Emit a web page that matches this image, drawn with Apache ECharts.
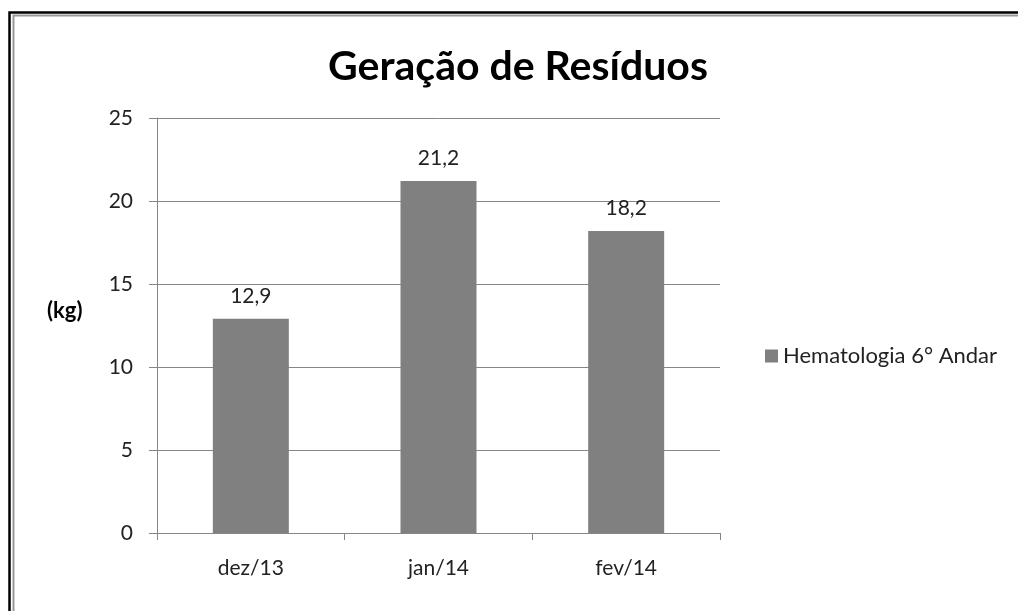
<!DOCTYPE html>
<html><head><meta charset="utf-8">
<script src="https://cdn.jsdelivr.net/npm/echarts@6/dist/echarts.min.js"></script>
<style>html,body{margin:0;padding:0;background:#fff}#c{width:1018px;height:611px}</style>
</head><body><div id="c"></div>
<script>
const categories = ['dez/13', 'jan/14', 'fev/14'];
const values = [12.9, 21.2, 18.2];
const seriesName = 'Hematologia 6° Andar';
const titleText = 'Geração de Resíduos';
const yAxisName = '(kg)';
const yMin = 0, yMax = 25, yStep = 5;

const chart = echarts.init(document.getElementById('c'), null, {renderer: 'canvas'});
const ff = 'Lato, "Open Sans", sans-serif';
chart.setOption({
  animation: false,
  backgroundColor: '#fff',
  graphic: [
    {type: 'rect', shape: {x: 9.5, y: 12.5, width: 1030, height: 640}, style: {fill: 'none', stroke: '#000', lineWidth: 2.5}, silent: true},
    {type: 'rect', shape: {x: 13.5, y: 15.5, width: 1030, height: 640}, style: {fill: 'none', stroke: '#999', lineWidth: 2}, silent: true},
    {type: 'text', left: 47, top: 300, style: {text: yAxisName, font: 'bold 22px ' + ff, fill: '#000'}}
  ],
  title: {
    text: titleText, left: 513, top: 41, textAlign: 'center',
    textStyle: {fontFamily: ff, fontWeight: 'bold', fontSize: 41, color: '#000'}
  },
  legend: {
    data: [seriesName], left: 760, top: 340, orient: 'vertical',
    icon: 'rect', itemWidth: 13, itemHeight: 13, itemGap: 8,
    textStyle: {fontFamily: ff, fontSize: 22, color: '#222'}
  },
  grid: {left: 157, right: 298, top: 118, bottom: 78, containLabel: false},
  xAxis: {
    type: 'category', data: categories,
    axisLine: {lineStyle: {color: '#868686', width: 1}},
    axisTick: {show: true, length: 7, lineStyle: {color: '#868686'}},
    axisLabel: {fontFamily: ff, fontSize: 21, color: '#222', margin: 25}
  },
  yAxis: {
    type: 'value', min: yMin, max: yMax, interval: yStep,
    axisLine: {show: true, lineStyle: {color: '#868686'}},
    axisTick: {show: true, length: 8, inside: false, lineStyle: {color: '#868686'}},
    splitLine: {lineStyle: {color: '#868686', width: 1}},
    axisLabel: {fontFamily: ff, fontSize: 21, color: '#222', margin: 24}
  },
  series: [{
    name: seriesName, type: 'bar', data: values, barWidth: '40.5%',
    itemStyle: {color: '#808080'},
    label: {
      show: true, position: 'top', distance: 12,
      fontFamily: ff, fontSize: 21, color: '#222',
      formatter: p => p.value.toFixed(1).replace('.', ',')
    }
  }]
});
</script></body></html>
